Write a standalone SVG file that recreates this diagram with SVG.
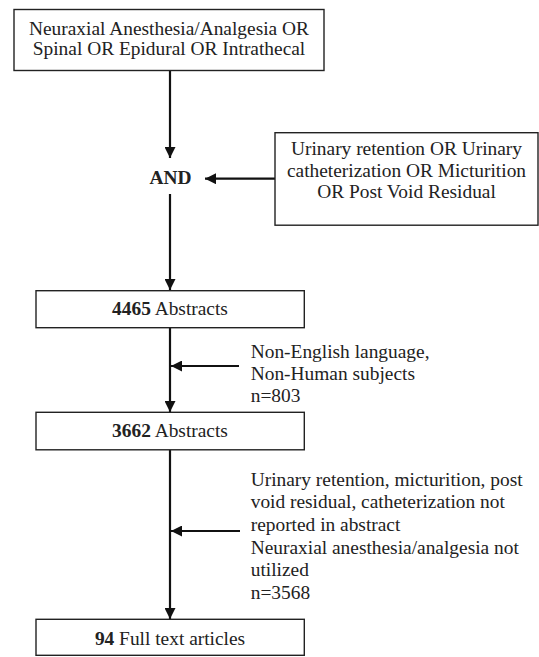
<svg xmlns="http://www.w3.org/2000/svg" width="539" height="657" viewBox="0 0 539 657">
<style>
.box{fill:#fff;stroke:#222;stroke-width:1.4}
.t{font-family:"Liberation Serif","Times New Roman",serif;font-size:19.4px;fill:#222}
.c{text-anchor:middle}
.b{font-weight:bold}
.ln{stroke:#111;stroke-width:2.2;fill:none}
</style>
<defs>
<marker id="ah" viewBox="0 0 10 10" refX="10" refY="5" markerWidth="11" markerHeight="11" markerUnits="userSpaceOnUse" orient="auto">
<path d="M0,0 L10,5 L0,10 Z" fill="#111"/>
</marker>
</defs>
<rect width="539" height="657" fill="#fff"/>
<g id="connectors">
<line class="ln" x1="170" y1="71" x2="170" y2="158" marker-end="url(#ah)"/>
<line class="ln" x1="275" y1="178.7" x2="205" y2="178.7" marker-end="url(#ah)"/>
<line class="ln" x1="170" y1="194" x2="170" y2="290" marker-end="url(#ah)"/>
<line class="ln" x1="170" y1="328" x2="170" y2="412" marker-end="url(#ah)"/>
<line class="ln" x1="239" y1="366" x2="171" y2="366" marker-end="url(#ah)"/>
<line class="ln" x1="170" y1="450" x2="170" y2="619" marker-end="url(#ah)"/>
<line class="ln" x1="240" y1="531" x2="171" y2="531" marker-end="url(#ah)"/>
</g>
<g id="search1">
<rect class="box" x="14" y="9.5" width="310" height="61"/>
<text class="t c" x="169" y="35">Neuraxial Anesthesia/Analgesia OR</text>
<text class="t c" x="169" y="55">Spinal OR Epidural OR Intrathecal</text>
</g>
<g id="and">
<text class="t c b" x="170.5" y="184">AND</text>
</g>
<g id="search2">
<rect class="box" x="275" y="132.7" width="263" height="92.5"/>
<text class="t c" x="406.5" y="155">Urinary retention OR Urinary</text>
<text class="t c" x="406.5" y="176.7">catheterization OR Micturition</text>
<text class="t c" x="406.5" y="198.3">OR Post Void Residual</text>
</g>
<g id="abs4465">
<rect class="box" x="36" y="290.7" width="268.3" height="37"/>
<text class="t c" x="170" y="315"><tspan class="b">4465</tspan> Abstracts</text>
</g>
<g id="excl1">
<text class="t" x="250.7" y="358">Non-English language,</text>
<text class="t" x="250.7" y="380">Non-Human subjects</text>
<text class="t" x="250.7" y="402">n=803</text>
</g>
<g id="abs3662">
<rect class="box" x="36" y="412.3" width="268.3" height="37.5"/>
<text class="t c" x="170" y="437.3"><tspan class="b">3662</tspan> Abstracts</text>
</g>
<g id="excl2">
<text class="t" x="250.7" y="485.5">Urinary retention, micturition, post</text>
<text class="t" x="250.7" y="508.2">void residual, catheterization not</text>
<text class="t" x="250.7" y="530.9">reported in abstract</text>
<text class="t" x="250.7" y="553.6">Neuraxial anesthesia/analgesia not</text>
<text class="t" x="250.7" y="576.3">utilized</text>
<text class="t" x="250.7" y="599">n=3568</text>
</g>
<g id="full94">
<rect class="box" x="36" y="619.3" width="268.3" height="36"/>
<text class="t c" x="170" y="645"><tspan class="b">94</tspan> Full text articles</text>
</g>
</svg>
